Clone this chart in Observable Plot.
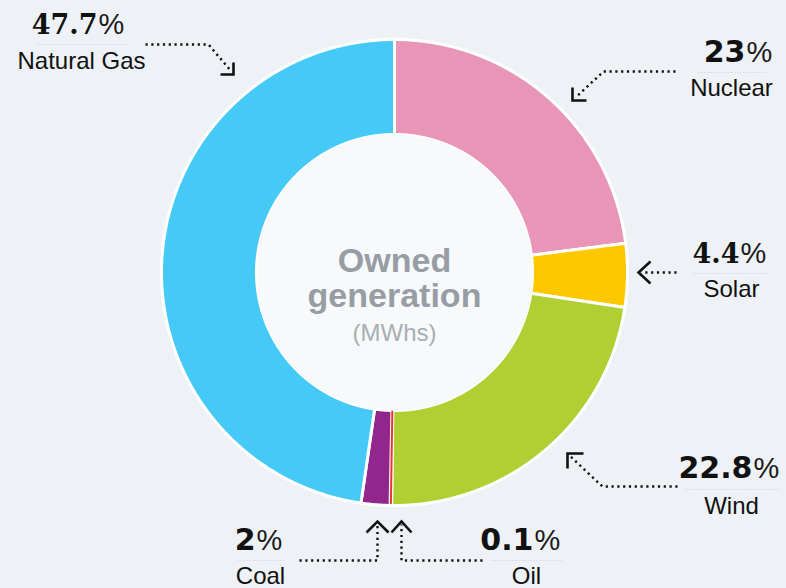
<!DOCTYPE html>
<html>
<head>
<meta charset="utf-8">
<script src="https://cdn.jsdelivr.net/npm/d3@7"></script>
<script src="https://cdn.jsdelivr.net/npm/@observablehq/plot@0.6"></script>
<style>
  html, body { margin: 0; padding: 0; background: #eef2f6; }
  #chart svg { display: block; }
</style>
</head>
<body>
<div id="chart"></div>
<script>
// ---------- data ----------
const sources     = ["Nuclear", "Solar", "Wind", "Oil", "Coal", "Natural Gas"];
const shares      = [23, 4.4, 22.8, 0.1, 2, 47.7];
const shareLabels = ["23", "4.4", "22.8", "0.1", "2", "47.7"];
const colors      = ["#e995b8", "#fdc800", "#b1cf33", "#e63a2e", "#91278c", "#45c9f6"];
const centerTitle = ["Owned", "generation"];
const centerSub   = "(MWhs)";

// ---------- layout (pixels) ----------
const W = 786, H = 588;
const cx = 394, cy = 272, R = 233, innerPx = 138;
const X = px => (px - cx) / R;
const Y = py => (cy - py) / R;

const layout = {
  "Natural Gas": {cx: 81,  split: 97,  pctBase: 33,  sepY: 44,  sep: [36, 128],
                  nameBase: 68,  leader: [[145,44],[208,44],[231,71]],  head: [[233,62],[233,74],[220,74]]},
  "Nuclear":     {cx: 731, split: 745, pctBase: 61,  sepY: 72,  sep: [698, 766],
                  nameBase: 95,  leader: [[675,71],[603,71],[575,97]],  head: [[572,87],[572,100],[586,100]]},
  "Solar":       {cx: 731, split: 739, pctBase: 262, sepY: 273, sep: [694, 769],
                  nameBase: 296, leader: [[676,272],[641,272]],          head: [[650,261],[638,272],[650,283]]},
  "Wind":        {cx: 731, split: 752, pctBase: 477, sepY: 489, sep: [684, 779],
                  nameBase: 513, leader: [[677,486],[602,486],[570,456]], head: [[583,453],[567,453],[567,468]]},
  "Coal":        {cx: 260, split: 255, pctBase: 549, sepY: 560, sep: [237, 284],
                  nameBase: 583, leader: [[299,560],[377,560],[377,524]], head: [[366,532],[377,521],[388,532]]},
  "Oil":         {cx: 526, split: 533, pctBase: 549, sepY: 560, sep: [491, 562],
                  nameBase: 583, leader: [[482,560],[401,560],[401,524]], head: [[391,532],[401,521],[411,532]]}
};
const serifDigits = new Set(["Natural Gas", "Solar"]);

// ---------- derived geometry ----------
const rows = sources.map((name, i) => ({name, share: shares[i], label: shareLabels[i]}));
const arcs = d3.pie().sort(null).value(d => d.share)(rows);
const rIn = innerPx / R;

const slicePts = arcs.flatMap(p => {
  const name = p.data.name;
  const n = Math.max(2, Math.ceil((p.endAngle - p.startAngle) / 0.004));
  const angles = d3.range(n + 1).map(i => p.startAngle + (p.endAngle - p.startAngle) * i / n);
  const outer = angles.map(a => ({name, x: Math.sin(a), y: Math.cos(a)}));
  const inner = angles.slice().reverse().map(a => ({name, x: rIn * Math.sin(a), y: rIn * Math.cos(a)}));
  return outer.concat(inner);
});
const tiny = arcs.filter(p => p.data.share < 0.5)
  .map(p => ({name: p.data.name, a: (p.startAngle + p.endAngle) / 2}));

const L = name => layout[name];
const leaderPts = rows.flatMap(d => L(d.name).leader.map(([px, py]) => ({name: d.name, x: X(px), y: Y(py)})));
const headPts = rows.flatMap(d => L(d.name).head.map(([px, py]) => ({name: d.name, x: X(px), y: Y(py)})));

const digitStyle = {textAnchor: "end", lineAnchor: "bottom", fontWeight: "bold", fill: "#111"};

const chart = Plot.plot({
  width: W, height: H, margin: 0,
  x: {domain: [X(0), X(W)], axis: null},
  y: {domain: [Y(H), Y(0)], axis: null},
  color: {domain: sources, range: colors},
  style: {background: "transparent", overflow: "visible"},
  marks: [
    // donut slices
    Plot.line(slicePts, {x: "x", y: "y", z: "name", fill: "name", stroke: "white",
                         strokeWidth: 3, curve: "linear-closed"}),
    // very thin slices kept visible
    Plot.link(tiny, {x1: d => rIn * Math.sin(d.a), y1: d => rIn * Math.cos(d.a),
                     x2: d => ((R - 1.5) / R) * Math.sin(d.a), y2: d => ((R - 1.5) / R) * Math.cos(d.a),
                     stroke: "name", strokeWidth: 2}),
    // inner disk
    Plot.dot([{x: 0, y: 0}], {x: "x", y: "y", r: innerPx, fill: "#f7f9fa", stroke: null}),
    // centre title
    Plot.text([centerTitle[0]], {x: () => 0, y: () => Y(271), text: d => d, lineAnchor: "bottom",
      fontFamily: "Liberation Sans, Arial, sans-serif", fontWeight: "bold", fontSize: 34, fill: "#979da4"}),
    Plot.text([centerTitle[1]], {x: () => 0, y: () => Y(306), text: d => d, lineAnchor: "bottom",
      fontFamily: "Liberation Sans, Arial, sans-serif", fontWeight: "bold", fontSize: 34, fill: "#979da4"}),
    Plot.text([centerSub], {x: () => 0, y: () => Y(340), text: d => d, lineAnchor: "bottom",
      fontFamily: "Liberation Sans, Arial, sans-serif", fontSize: 24, fill: "#a9aeb4"}),
    // separators under the percentages
    Plot.link(rows, {x1: d => X(L(d.name).sep[0]), x2: d => X(L(d.name).sep[1]),
                     y1: d => Y(L(d.name).sepY), y2: d => Y(L(d.name).sepY),
                     stroke: "#c9ced3", strokeWidth: 1, strokeDasharray: "1,2"}),
    // percentages: digits
    Plot.text(rows.filter(d => !serifDigits.has(d.name)), {
      x: d => X(L(d.name).split), y: d => Y(L(d.name).pctBase), text: "label",
      ...digitStyle, fontFamily: "DejaVu Sans, sans-serif", fontSize: 30}),
    Plot.text(rows.filter(d => serifDigits.has(d.name)), {
      x: d => X(L(d.name).split), y: d => Y(L(d.name).pctBase), text: "label",
      ...digitStyle, fontFamily: "DejaVu Serif, serif", fontSize: 27}),
    // percentages: % sign
    Plot.text(rows, {x: d => X(L(d.name).split + 1), y: d => Y(L(d.name).pctBase), text: () => "%",
      textAnchor: "start", lineAnchor: "bottom", fontFamily: "Liberation Sans, Arial, sans-serif",
      fontSize: 29, fill: "#1a1a1a"}),
    // category names
    Plot.text(rows, {x: d => X(L(d.name).cx), y: d => Y(L(d.name).nameBase), text: "name",
      textAnchor: "middle", lineAnchor: "bottom", fontFamily: "Liberation Sans, Arial, sans-serif",
      fontSize: 24, fill: "#111"}),
    // dotted leaders
    Plot.line(leaderPts, {x: "x", y: "y", z: "name", stroke: "#111", strokeWidth: 2.4,
      strokeDasharray: "2.2,3.6", strokeLinecap: "butt", strokeLinejoin: "miter"}),
    // arrow heads
    Plot.line(headPts, {x: "x", y: "y", z: "name", stroke: "#111", strokeWidth: 2.6,
      strokeLinecap: "butt", strokeLinejoin: "miter", strokeMiterlimit: 4})
  ]
});
document.getElementById("chart").appendChild(chart);
</script>
</body>
</html>
